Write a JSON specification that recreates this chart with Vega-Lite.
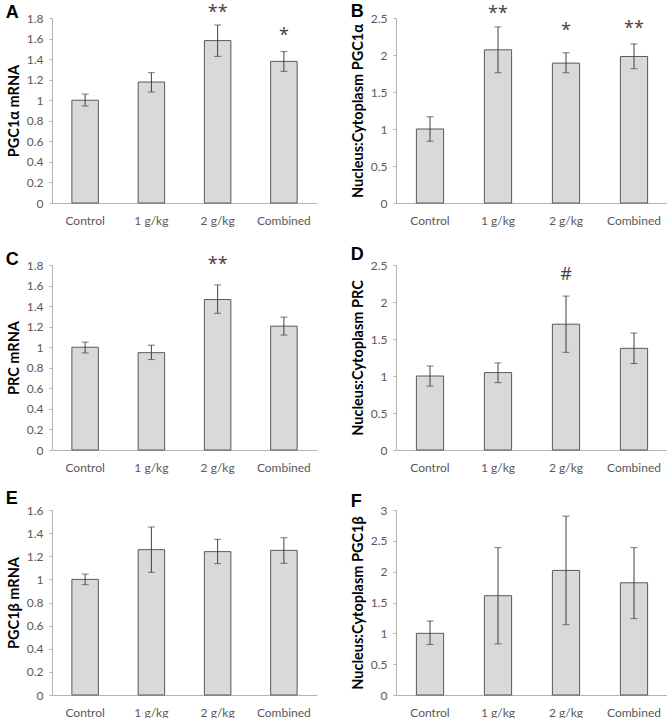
{
  "$schema": "https://vega.github.io/schema/vega-lite/v6.json",
  "padding": {"left": 5, "top": 2, "right": 0, "bottom": 0},
  "background": "white",
  "config": {
    "view": {"stroke": null},
    "font": "Lato",
    "axis": {"grid": false, "domainColor": "#b3b3b3", "tickColor": "#b3b3b3", "labelColor": "#595959", "labelFont": "Lato", "labelFontSize": 12, "titleFont": "Lato", "titleFontWeight": "bold", "titleFontSize": 14.5, "titleColor": "#000000", "labelOverlap": false},
    "axisX": {"ticks": false, "labelPadding": 12, "labelAngle": 0},
    "axisY": {"tickSize": 3, "labelPadding": 6, "titlePadding": 4.5, "labelOverlap": false, "tickCount": 20},
    "title": {"font": "Liberation Sans", "fontSize": 18, "fontWeight": "bold", "anchor": "start", "frame": "bounds", "color": "#000000"}
  },
  "data": {"values": [
    {"panel": "A", "group": "Control", "value": 1.0, "lo": 0.944, "hi": 1.06, "note": "", "noteY": null},
    {"panel": "A", "group": "1 g/kg", "value": 1.177, "lo": 1.08, "hi": 1.268, "note": "", "noteY": null},
    {"panel": "A", "group": "2 g/kg", "value": 1.58, "lo": 1.427, "hi": 1.732, "note": "**", "noteY": 1.89},
    {"panel": "A", "group": "Combined", "value": 1.378, "lo": 1.281, "hi": 1.473, "note": "*", "noteY": 1.66},
    {"panel": "B", "group": "Control", "value": 1.0, "lo": 0.835, "hi": 1.165, "note": "", "noteY": null},
    {"panel": "B", "group": "1 g/kg", "value": 2.07, "lo": 1.76, "hi": 2.38, "note": "**", "noteY": 2.61},
    {"panel": "B", "group": "2 g/kg", "value": 1.89, "lo": 1.76, "hi": 2.03, "note": "*", "noteY": 2.38},
    {"panel": "B", "group": "Combined", "value": 1.98, "lo": 1.815, "hi": 2.15, "note": "**", "noteY": 2.4},
    {"panel": "C", "group": "Control", "value": 1.0, "lo": 0.944, "hi": 1.05, "note": "", "noteY": null},
    {"panel": "C", "group": "1 g/kg", "value": 0.947, "lo": 0.88, "hi": 1.02, "note": "", "noteY": null},
    {"panel": "C", "group": "2 g/kg", "value": 1.464, "lo": 1.33, "hi": 1.606, "note": "**", "noteY": 1.84},
    {"panel": "C", "group": "Combined", "value": 1.205, "lo": 1.118, "hi": 1.293, "note": "", "noteY": null},
    {"panel": "D", "group": "Control", "value": 1.0, "lo": 0.863, "hi": 1.135, "note": "", "noteY": null},
    {"panel": "D", "group": "1 g/kg", "value": 1.046, "lo": 0.91, "hi": 1.177, "note": "", "noteY": null},
    {"panel": "D", "group": "2 g/kg", "value": 1.7, "lo": 1.32, "hi": 2.08, "note": "#", "noteY": 2.39},
    {"panel": "D", "group": "Combined", "value": 1.374, "lo": 1.168, "hi": 1.58, "note": "", "noteY": null},
    {"panel": "E", "group": "Control", "value": 1.0, "lo": 0.954, "hi": 1.046, "note": "", "noteY": null},
    {"panel": "E", "group": "1 g/kg", "value": 1.257, "lo": 1.061, "hi": 1.453, "note": "", "noteY": null},
    {"panel": "E", "group": "2 g/kg", "value": 1.24, "lo": 1.136, "hi": 1.346, "note": "", "noteY": null},
    {"panel": "E", "group": "Combined", "value": 1.251, "lo": 1.139, "hi": 1.36, "note": "", "noteY": null},
    {"panel": "F", "group": "Control", "value": 1.0, "lo": 0.82, "hi": 1.2, "note": "", "noteY": null},
    {"panel": "F", "group": "1 g/kg", "value": 1.61, "lo": 0.83, "hi": 2.39, "note": "", "noteY": null},
    {"panel": "F", "group": "2 g/kg", "value": 2.02, "lo": 1.14, "hi": 2.9, "note": "", "noteY": null},
    {"panel": "F", "group": "Combined", "value": 1.82, "lo": 1.24, "hi": 2.39, "note": "", "noteY": null}
  ]},
  "spacing": 20,
  "vconcat": [
    {"spacing": 33, "hconcat": [
      {"title": {"text": "A", "offset": -18.5, "dx": -1}, "width": 265, "height": 185,
       "transform": [{"filter": "datum.panel === 'A'"}],
       "encoding": {"x": {"field": "group", "type": "nominal", "sort": ["Control", "1 g/kg", "2 g/kg", "Combined"], "title": null, "scale": {"paddingInner": 0.6, "paddingOuter": 0.3}}},
       "layer": [
         {"mark": {"type": "bar", "fill": "#d9d9d9", "stroke": "#595959", "strokeWidth": 1}, "encoding": {"y": {"field": "value", "type": "quantitative", "title": "PGC1α mRNA", "scale": {"domain": [0, 1.8], "nice": false}, "axis": {"values": [0, 0.2, 0.4, 0.6, 0.8, 1, 1.2, 1.4, 1.6, 1.8], "format": "~g", "labelOverlap": false, "tickCount": 20}}}},
         {"mark": {"type": "rule", "color": "#404040", "strokeWidth": 1}, "encoding": {"y": {"field": "lo", "type": "quantitative", "title": "PGC1α mRNA"}, "y2": {"field": "hi"}}},
         {"mark": {"type": "tick", "color": "#404040", "size": 7, "thickness": 1}, "encoding": {"y": {"field": "lo", "type": "quantitative", "title": "PGC1α mRNA"}}},
         {"mark": {"type": "tick", "color": "#404040", "size": 7, "thickness": 1}, "encoding": {"y": {"field": "hi", "type": "quantitative", "title": "PGC1α mRNA"}}},
         {"transform": [{"filter": "datum.note !== ''"}], "mark": {"type": "text", "fontSize": 18, "font": "Open Sans", "color": "#404040", "baseline": "alphabetic", "dy": 9}, "encoding": {"y": {"field": "noteY", "type": "quantitative", "title": "PGC1α mRNA"}, "text": {"field": "note"}}}
       ]},
      {"title": {"text": "B", "offset": -16}, "width": 272, "height": 185,
       "transform": [{"filter": "datum.panel === 'B'"}],
       "encoding": {"x": {"field": "group", "type": "nominal", "sort": ["Control", "1 g/kg", "2 g/kg", "Combined"], "title": null, "scale": {"paddingInner": 0.6, "paddingOuter": 0.3}}},
       "layer": [
         {"mark": {"type": "bar", "fill": "#d9d9d9", "stroke": "#595959", "strokeWidth": 1}, "encoding": {"y": {"field": "value", "type": "quantitative", "title": "Nucleus:Cytoplasm PGC1α", "scale": {"domain": [0, 2.5], "nice": false}, "axis": {"values": [0, 0.5, 1, 1.5, 2, 2.5], "format": "~g", "labelOverlap": false, "tickCount": 20}}}},
         {"mark": {"type": "rule", "color": "#404040", "strokeWidth": 1}, "encoding": {"y": {"field": "lo", "type": "quantitative", "title": "Nucleus:Cytoplasm PGC1α"}, "y2": {"field": "hi"}}},
         {"mark": {"type": "tick", "color": "#404040", "size": 7, "thickness": 1}, "encoding": {"y": {"field": "lo", "type": "quantitative", "title": "Nucleus:Cytoplasm PGC1α"}}},
         {"mark": {"type": "tick", "color": "#404040", "size": 7, "thickness": 1}, "encoding": {"y": {"field": "hi", "type": "quantitative", "title": "Nucleus:Cytoplasm PGC1α"}}},
         {"transform": [{"filter": "datum.note !== ''"}], "mark": {"type": "text", "fontSize": 18, "font": "Open Sans", "color": "#404040", "baseline": "alphabetic", "dy": 9}, "encoding": {"y": {"field": "noteY", "type": "quantitative", "title": "Nucleus:Cytoplasm PGC1α"}, "text": {"field": "note"}}}
       ]}
    ]},
    {"spacing": 17, "vconcat": [
    {"spacing": 33, "hconcat": [
      {"title": {"text": "C", "offset": -13, "dx": -1}, "width": 265, "height": 185,
       "transform": [{"filter": "datum.panel === 'C'"}],
       "encoding": {"x": {"field": "group", "type": "nominal", "sort": ["Control", "1 g/kg", "2 g/kg", "Combined"], "title": null, "scale": {"paddingInner": 0.6, "paddingOuter": 0.3}}},
       "layer": [
         {"mark": {"type": "bar", "fill": "#d9d9d9", "stroke": "#595959", "strokeWidth": 1}, "encoding": {"y": {"field": "value", "type": "quantitative", "title": "PRC mRNA", "scale": {"domain": [0, 1.8], "nice": false}, "axis": {"values": [0, 0.2, 0.4, 0.6, 0.8, 1, 1.2, 1.4, 1.6, 1.8], "format": "~g", "labelOverlap": false, "tickCount": 20}}}},
         {"mark": {"type": "rule", "color": "#404040", "strokeWidth": 1}, "encoding": {"y": {"field": "lo", "type": "quantitative", "title": "PRC mRNA"}, "y2": {"field": "hi"}}},
         {"mark": {"type": "tick", "color": "#404040", "size": 7, "thickness": 1}, "encoding": {"y": {"field": "lo", "type": "quantitative", "title": "PRC mRNA"}}},
         {"mark": {"type": "tick", "color": "#404040", "size": 7, "thickness": 1}, "encoding": {"y": {"field": "hi", "type": "quantitative", "title": "PRC mRNA"}}},
         {"transform": [{"filter": "datum.note !== ''"}], "mark": {"type": "text", "fontSize": 18, "font": "Open Sans", "color": "#404040", "baseline": "alphabetic", "dy": 9}, "encoding": {"y": {"field": "noteY", "type": "quantitative", "title": "PRC mRNA"}, "text": {"field": "note"}}}
       ]},
      {"title": {"text": "D", "offset": -5}, "width": 272, "height": 185,
       "transform": [{"filter": "datum.panel === 'D'"}],
       "encoding": {"x": {"field": "group", "type": "nominal", "sort": ["Control", "1 g/kg", "2 g/kg", "Combined"], "title": null, "scale": {"paddingInner": 0.6, "paddingOuter": 0.3}}},
       "layer": [
         {"mark": {"type": "bar", "fill": "#d9d9d9", "stroke": "#595959", "strokeWidth": 1}, "encoding": {"y": {"field": "value", "type": "quantitative", "title": "Nucleus:Cytoplasm PRC", "scale": {"domain": [0, 2.5], "nice": false}, "axis": {"values": [0, 0.5, 1, 1.5, 2, 2.5], "format": "~g", "labelOverlap": false, "tickCount": 20}}}},
         {"mark": {"type": "rule", "color": "#404040", "strokeWidth": 1}, "encoding": {"y": {"field": "lo", "type": "quantitative", "title": "Nucleus:Cytoplasm PRC"}, "y2": {"field": "hi"}}},
         {"mark": {"type": "tick", "color": "#404040", "size": 7, "thickness": 1}, "encoding": {"y": {"field": "lo", "type": "quantitative", "title": "Nucleus:Cytoplasm PRC"}}},
         {"mark": {"type": "tick", "color": "#404040", "size": 7, "thickness": 1}, "encoding": {"y": {"field": "hi", "type": "quantitative", "title": "Nucleus:Cytoplasm PRC"}}},
         {"transform": [{"filter": "datum.note !== ''"}], "mark": {"type": "text", "fontSize": 18, "font": "Open Sans", "color": "#404040", "baseline": "alphabetic", "dy": 7}, "encoding": {"y": {"field": "noteY", "type": "quantitative", "title": "Nucleus:Cytoplasm PRC"}, "text": {"field": "note"}}}
       ]}
    ]},
    {"spacing": 33, "hconcat": [
      {"title": {"text": "E", "offset": -4, "dx": -1}, "width": 265, "height": 185,
       "transform": [{"filter": "datum.panel === 'E'"}],
       "encoding": {"x": {"field": "group", "type": "nominal", "sort": ["Control", "1 g/kg", "2 g/kg", "Combined"], "title": null, "scale": {"paddingInner": 0.6, "paddingOuter": 0.3}}},
       "layer": [
         {"mark": {"type": "bar", "fill": "#d9d9d9", "stroke": "#595959", "strokeWidth": 1}, "encoding": {"y": {"field": "value", "type": "quantitative", "title": "PGC1β mRNA", "scale": {"domain": [0, 1.6], "nice": false}, "axis": {"values": [0, 0.2, 0.4, 0.6, 0.8, 1, 1.2, 1.4, 1.6], "format": "~g", "labelOverlap": false, "tickCount": 20}}}},
         {"mark": {"type": "rule", "color": "#404040", "strokeWidth": 1}, "encoding": {"y": {"field": "lo", "type": "quantitative", "title": "PGC1β mRNA"}, "y2": {"field": "hi"}}},
         {"mark": {"type": "tick", "color": "#404040", "size": 7, "thickness": 1}, "encoding": {"y": {"field": "lo", "type": "quantitative", "title": "PGC1β mRNA"}}},
         {"mark": {"type": "tick", "color": "#404040", "size": 7, "thickness": 1}, "encoding": {"y": {"field": "hi", "type": "quantitative", "title": "PGC1β mRNA"}}}
       ]},
      {"title": {"text": "F", "offset": -7}, "width": 272, "height": 185,
       "transform": [{"filter": "datum.panel === 'F'"}],
       "encoding": {"x": {"field": "group", "type": "nominal", "sort": ["Control", "1 g/kg", "2 g/kg", "Combined"], "title": null, "scale": {"paddingInner": 0.6, "paddingOuter": 0.3}}},
       "layer": [
         {"mark": {"type": "bar", "fill": "#d9d9d9", "stroke": "#595959", "strokeWidth": 1}, "encoding": {"y": {"field": "value", "type": "quantitative", "title": "Nucleus:Cytoplasm PGC1β", "scale": {"domain": [0, 3], "nice": false}, "axis": {"values": [0, 0.5, 1, 1.5, 2, 2.5, 3], "format": "~g", "labelOverlap": false, "tickCount": 20}}}},
         {"mark": {"type": "rule", "color": "#404040", "strokeWidth": 1}, "encoding": {"y": {"field": "lo", "type": "quantitative", "title": "Nucleus:Cytoplasm PGC1β"}, "y2": {"field": "hi"}}},
         {"mark": {"type": "tick", "color": "#404040", "size": 7, "thickness": 1}, "encoding": {"y": {"field": "lo", "type": "quantitative", "title": "Nucleus:Cytoplasm PGC1β"}}},
         {"mark": {"type": "tick", "color": "#404040", "size": 7, "thickness": 1}, "encoding": {"y": {"field": "hi", "type": "quantitative", "title": "Nucleus:Cytoplasm PGC1β"}}}
       ]}
    ]}
    ]}
  ]
}
